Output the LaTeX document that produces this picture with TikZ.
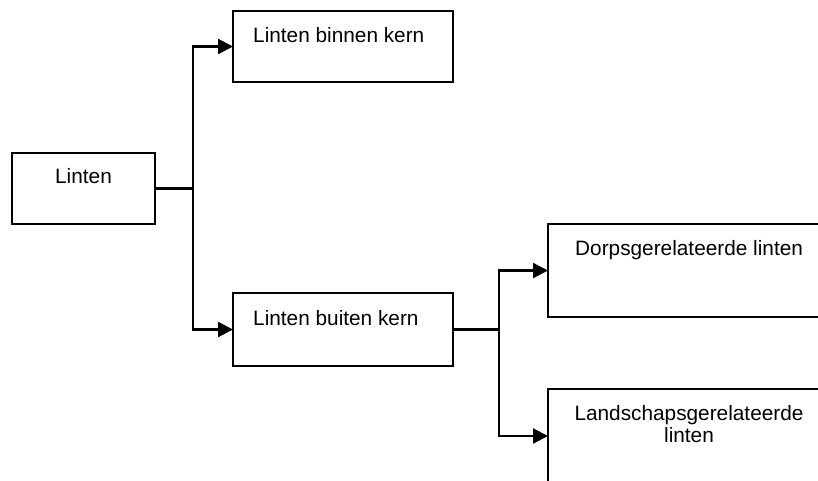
\documentclass[tikz,border=0pt]{standalone}
\usepackage{fontspec}
\setmainfont{Liberation Sans}
\usetikzlibrary{arrows.meta}
\begin{document}
\begin{tikzpicture}[x=1pt,y=-1pt,
  box/.style={draw, line width=2.2pt, rectangle, inner sep=0pt, outer sep=0pt, anchor=north west},
  conn/.style={line width=2.2pt},
  arr/.style={conn, -{Triangle[length=15pt,width=15pt]}},
  lbl/.style={font=\fontsize{20.8}{22.5}\selectfont, inner sep=0pt}]
\useasboundingbox (0,0) rectangle (818,480);
\clip (0,0) rectangle (818,480);
% boxes
\node[box, minimum width=143pt, minimum height=71pt] (linten) at (12,153) {};
\node[box, minimum width=220pt, minimum height=71pt] (binnen) at (233,11) {};
\node[box, minimum width=220pt, minimum height=73pt] (buiten) at (233,293) {};
\node[box, minimum width=300pt, minimum height=93pt] (dorps) at (548,224) {};
\node[box, minimum width=300pt, minimum height=94pt] (lands) at (548,389) {};
% labels
\node[lbl, anchor=base] (tlinten) at (83.5,183) {Linten};
\node[lbl, anchor=base west] (tbinnen) at (253,42) {Linten binnen kern};
\node[lbl, anchor=base west] (tbuiten) at (253,325) {Linten buiten kern};
\node[lbl, anchor=base west] (tdorps) at (575,255) {Dorpsgerelateerde linten};
\node[lbl, anchor=north, align=center] (tlands) at (689,405) {Landschapsgerelateerde\\linten};
% connectors
\coordinate (j1) at (193,188.5);
\coordinate (j2) at (499,329.5);
\draw[conn] (linten.east) -- (j1);
\draw[arr] (j1) |- (binnen.west);
\draw[arr] (j1) |- (buiten.west);
\draw[conn] (buiten.east) -- (j2);
\draw[arr] (j2) |- (dorps.west);
\draw[arr] (j2) |- (lands.west);
\end{tikzpicture}
\end{document}
